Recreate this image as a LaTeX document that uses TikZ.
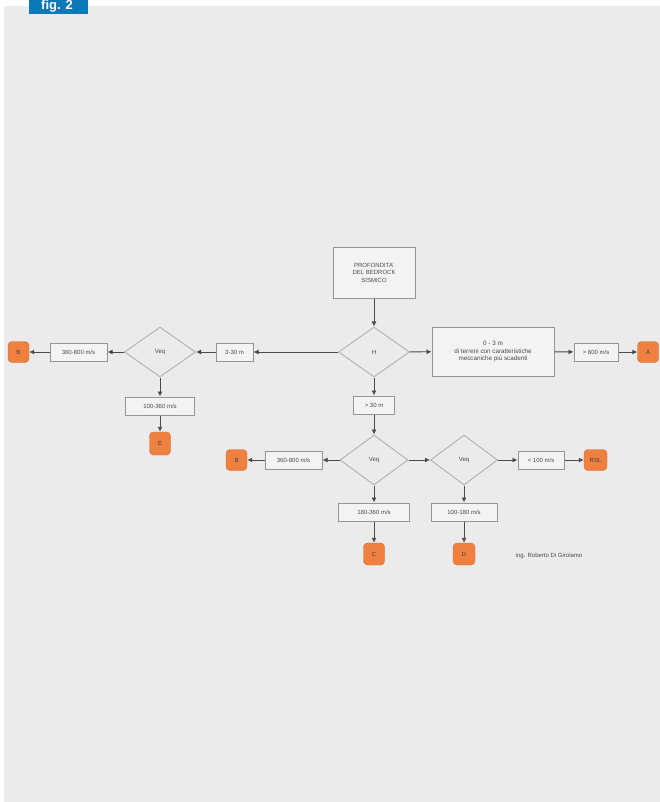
\documentclass[tikz,border=0pt]{standalone}
\usepackage{fontspec}
\setmainfont{Liberation Sans}
\usetikzlibrary{shapes.geometric,arrows.meta}
\definecolor{panel}{HTML}{EBEBEB}
\definecolor{tab}{HTML}{0B78B8}
\definecolor{boxline}{HTML}{959595}
\definecolor{dline}{HTML}{B4B4B4}
\definecolor{ink}{HTML}{4A4A4A}
\definecolor{cat}{HTML}{F08040}
\definecolor{catline}{HTML}{D86A2C}
\tikzset{
  every node/.style={font=\fontsize{6}{7}\selectfont, text=ink},
  rbox/.style={draw=boxline, fill=panel!60!white, line width=1pt, inner sep=0pt, minimum height=18pt, align=center},
  dia/.style={diamond, draw=dline, line width=1pt, fill=panel, minimum width=71pt, minimum height=50pt, inner sep=0pt},
  catbox/.style={draw=catline, fill=cat, rounded corners=4pt, minimum width=21pt, minimum height=21pt, inner sep=0pt, text=black!75},
  conn/.style={draw=ink, line width=0.9pt, -{Latex[length=5pt,width=5pt]}},
}
\begin{document}
\begin{tikzpicture}[x=1pt,y=-1pt]
\clip (0,0) rectangle (660,802);
\useasboundingbox (0,0) rectangle (660,802);
\fill[white] (0,0) rectangle (660,802);
\fill[panel] (4,6) rectangle (660,802);
\fill[tab] (29,-2) rectangle (88,14);
\node[anchor=base, text=white, font=\fontsize{13}{13}\bfseries\selectfont] (fig) at (57,10) {fig. 2};

% top box
\node[rbox, minimum width=82pt, minimum height=51pt, font=\fontsize{6}{7.5}\selectfont] (top) at (374,272.5) {PROFONDITA'\\DEL BEDROCK\\SISMICO};
\node[dia] (H) at (374,352) {H};
\node[rbox, minimum width=122pt, minimum height=49pt, font=\fontsize{6.3}{7.8}\selectfont] (shallow) at (493,351.5) {0 - 3 m\\di terreni con caratteristiche\\meccaniche più scadenti};
\node[rbox, minimum width=44pt] (v800) at (596,352) {> 800 m/s};
\node[catbox] (A) at (648,352) {A};

% left branch
\node[rbox, minimum width=37pt] (h330) at (234.5,352) {3-30 m};
\node[dia] (V1) at (160,352) {Veq};
\node[rbox, minimum width=57pt] (v1a) at (78.5,352) {360-800 m/s};
\node[catbox] (B1) at (18.5,352) {B};
\node[rbox, minimum width=69pt] (v1b) at (160,406) {100-360 m/s};
\node[catbox, minimum height=23pt] (E) at (160,443.5) {E};

% middle branch
\node[rbox, minimum width=41pt] (h30) at (374,405) {> 30 m};
\node[dia, minimum width=68pt] (V2) at (374,460) {Veq};
\node[rbox, minimum width=57pt] (v2a) at (293.5,460) {360-800 m/s};
\node[catbox] (B2) at (236.5,460) {B};
\node[rbox, minimum width=71pt] (v2b) at (374,512) {180-360 m/s};
\node[catbox, minimum height=22pt] (C) at (374,554) {C};

% right branch
\node[dia, minimum width=67pt] (V3) at (464,460) {Veq};
\node[rbox, minimum width=46pt] (v3a) at (541,460) {< 100 m/s};
\node[catbox, minimum width=23pt] (RSL) at (595.5,460) {RSL};
\node[rbox, minimum width=66pt] (v3b) at (464,512) {100-180 m/s};
\node[catbox, minimum width=22pt, minimum height=22pt] (D) at (464,554) {D};

\node (author) at (549,556) {ing. Roberto Di Girolamo};

% connectors
\draw[conn] (top) -- (H);
\draw[conn] (H) -- (shallow);
\draw[conn] (shallow) -- (v800);
\draw[conn] (v800) -- (A);
\draw[conn] (H) -- (h330);
\draw[conn] (h330) -- (V1);
\draw[conn] (V1) -- (v1a);
\draw[conn] (v1a) -- (B1);
\draw[conn] (V1) -- (v1b);
\draw[conn] (v1b) -- (E);
\draw[conn] (H) -- (h30);
\draw[conn] (h30) -- (V2);
\draw[conn] (V2) -- (v2a);
\draw[conn] (v2a) -- (B2);
\draw[conn] (V2) -- (v2b);
\draw[conn] (v2b) -- (C);
\draw[conn] (V2) -- (V3);
\draw[conn] (V3) -- (v3a);
\draw[conn] (v3a) -- (RSL);
\draw[conn] (V3) -- (v3b);
\draw[conn] (v3b) -- (D);
\end{tikzpicture}
\end{document}
